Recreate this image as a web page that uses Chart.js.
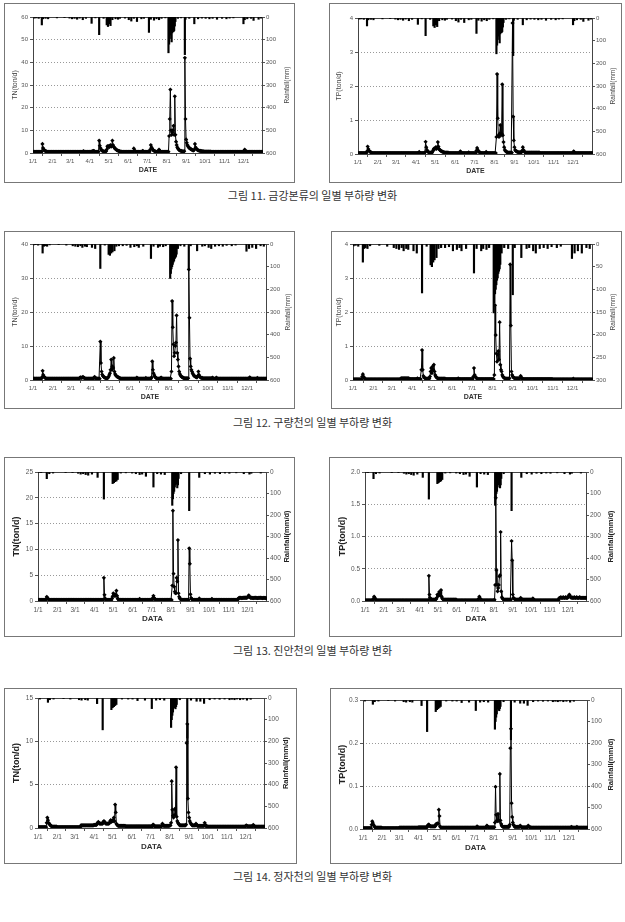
<!DOCTYPE html>
<html>
<head>
<meta charset="utf-8">
<script src="https://cdn.jsdelivr.net/npm/chart.js@4.4.0/dist/chart.umd.min.js"></script>
<style>
  body { margin: 0; background: #fff; width: 625px; height: 922px; position: relative; overflow: hidden; }
  .box { position: absolute; border: 1px solid #777; box-sizing: border-box; background: #fff; }
  .box canvas { position: absolute; left: 0; top: 0; }
  .cap { position: absolute; left: 0; width: 625px; text-align: center; font-family: 'Noto Sans CJK KR', sans-serif; font-size: 11px; color: #333; line-height: 14px; }
</style>
</head>
<body>
<script>
// x axis: day of year (0 = 1/1)
const monthStarts = [0, 31, 59, 90, 120, 151, 181, 212, 243, 273, 304, 334];
const monthLabels = ['1/1', '2/1', '3/1', '4/1', '5/1', '6/1', '7/1', '8/1', '9/1', '10/1', '11/1', '12/1'];

// daily loads, one line per month (Jan..Dec)
const tnGeum = [
  .5,.5,.5,.5,.5,.5,.5,.5,.5,.5,.5,.5,.5,.5,.6,4,2.2,1.6,1.2,1,.8,.7,.6,.5,.5,.5,.5,.5,.5,.5,.5,
  .5,.5,.5,.5,.5,.5,.5,.5,.5,.5,.5,.5,.5,.5,.5,.5,.5,.5,.5,.5,.5,.5,.5,.5,.5,.5,.5,.5,
  .5,.5,.5,.5,.5,.5,.5,.5,.5,.5,.5,.5,.5,.5,.5,.5,.5,.5,.5,.5,.5,.8,.6,.5,.5,.5,.5,.5,.5,.5,.5,
  .5,.5,.5,.6,.7,.8,1,.8,.6,.5,.5,.5,.5,.5,.6,5.5,3.2,2.2,1.6,1.2,1,.8,.7,.6,.6,.6,.8,1.5,3,2.5,
  3,2.6,3.2,3.5,2.8,3.2,5.5,3.5,2.8,2.4,2,1.8,1.5,1.3,1.1,1,.9,.8,.7,.6,.6,.5,.5,.5,.5,.5,.5,.5,.5,.5,.5,
  .5,.5,.5,.5,.5,.5,.5,.5,.5,2,1.2,.8,.6,.5,.5,.5,.5,.5,.5,.5,.5,.5,.5,1,.7,.5,.5,.5,.5,.5,
  .5,.5,.5,.5,.5,1.5,3.5,2.5,2,1.5,1.2,1,.8,.7,.6,.5,.5,.5,.5,1.5,1,.7,.5,.5,.5,.5,.5,.5,.5,.5,.5,
  .5,.5,.5,.6,7.5,15,28,10,8,9,10,12,8,25,8,5,3.5,2.5,2,1.6,1.3,1.1,1,.9,.8,.7,.7,.6,.8,42,15,
  6,4.5,3.5,3,2.5,2.2,2,1.8,1.6,1.5,1.3,1.2,1.1,1.5,4,2.5,2,1.6,1.4,1.2,1.1,1,.9,.9,.8,.8,.7,.7,.7,.6,
  .6,.6,.6,.6,.6,.6,.6,.6,.6,.6,.5,.5,.5,.5,.5,.5,.5,.5,.5,.5,.5,.5,.5,.5,.5,.5,.5,.5,.5,.5,.5,
  .5,.5,.5,.5,.5,.5,.5,.5,.5,.5,.5,.5,.5,.5,.5,.5,.5,.5,.5,.5,.5,.5,.5,.5,.5,.5,.5,.5,.5,.5,
  .5,.7,1.5,1,.7,.5,.5,.5,.5,.5,.5,.5,.5,.5,.5,.5,.5,.5,.5,.5,.5,.5,.5,.5,.5,.5,.5,.5,.5,.5,.5
];
const tpGeum = [
  .03,.03,.03,.03,.03,.03,.03,.03,.03,.03,.03,.03,.03,.03,.08,.22,.15,.1,.08,.06,.05,.04,.03,.03,.03,.03,.03,.03,.03,.03,.03,
  .03,.03,.03,.03,.03,.03,.03,.03,.03,.03,.03,.03,.03,.03,.03,.03,.03,.03,.03,.03,.03,.03,.03,.03,.03,.03,.03,.03,
  .03,.03,.03,.03,.03,.03,.03,.03,.03,.03,.03,.03,.03,.03,.03,.03,.03,.03,.03,.03,.03,.03,.03,.03,.03,.03,.03,.03,.03,.03,.03,
  .03,.03,.03,.03,.03,.06,.04,.03,.03,.03,.03,.03,.03,.03,.05,.36,.2,.12,.08,.06,.05,.04,.04,.04,.04,.04,.08,.12,.16,.14,
  .18,.2,.15,.2,.35,.22,.15,.12,.1,.09,.08,.07,.06,.05,.05,.04,.04,.04,.04,.04,.04,.03,.03,.03,.03,.03,.03,.03,.03,.03,.03,
  .03,.03,.03,.03,.03,.03,.03,.03,.08,.05,.03,.03,.03,.03,.03,.03,.03,.03,.03,.03,.03,.05,.03,.03,.03,.03,.03,.03,.03,.03,
  .03,.03,.03,.1,.18,.12,.08,.06,.05,.04,.03,.03,.03,.03,.03,.03,.03,.03,.06,.04,.03,.03,.03,.03,.03,.03,.03,.03,.03,.03,.03,
  .03,.03,.03,.5,2.35,1.05,.55,.5,.6,.85,.55,.6,2.05,.55,.35,.2,.12,.09,.07,.06,.05,.04,.04,.04,.04,.04,.04,.04,3.85,1.1,.4,
  .2,.12,.09,.08,.07,.06,.05,.05,.05,.05,.05,.05,.1,.2,.12,.08,.06,.04,.04,.04,.04,.04,.04,.04,.04,.04,.04,.04,.04,.04,
  .04,.04,.04,.04,.04,.04,.04,.04,.04,.04,.03,.03,.03,.03,.03,.03,.03,.03,.03,.03,.03,.03,.03,.03,.03,.03,.03,.03,.03,.03,.03,
  .03,.03,.03,.03,.03,.03,.03,.03,.03,.03,.03,.03,.03,.03,.03,.03,.03,.03,.03,.03,.03,.03,.03,.03,.03,.03,.03,.03,.03,.03,
  .03,.08,.05,.03,.03,.03,.03,.03,.03,.03,.03,.03,.03,.03,.03,.03,.03,.03,.03,.03,.03,.03,.03,.03,.03,.03,.03,.03,.03,.03,.03
];
const tnGuryang = [
  .4,.4,.4,.4,.4,.4,.4,.4,.4,.4,.4,.4,.4,.4,.8,2.7,1.5,1,.8,.6,.5,.4,.4,.4,.4,.4,.4,.4,.4,.4,.4,
  .4,.4,.4,.4,.4,.4,.4,.4,.4,.4,.4,.4,.4,.4,.4,.4,.4,.4,.4,.4,.4,.4,.4,.4,.4,.4,.4,.4,
  .4,.4,.4,.4,.4,.4,.4,.4,.4,.4,.4,.4,.4,.4,.6,.8,.7,.6,.8,.9,.7,.6,.5,.4,.4,.4,.4,.4,.4,.4,.4,
  .4,.4,.4,.4,.4,.6,.9,.7,.5,.4,.4,.4,.4,.4,.4,11.3,5,2.5,1.6,1.2,1,.8,.7,.6,.5,.5,.5,.7,1,1.5,
  2,3,6,3,4,3.5,6.5,2.5,1.8,1.4,1.2,1,.9,.8,.7,.6,.5,.4,.4,.4,.4,.4,.4,.4,.4,.4,.4,.4,.4,.4,.4,
  .4,.4,.4,.4,.4,.4,.4,.4,.4,.4,.4,.7,.5,.4,.4,.4,.4,.4,.4,.4,.4,.4,.4,.4,.4,.6,.4,.4,.4,.4,
  .4,.4,.4,.4,.8,5.5,3,2,1.5,1,.8,.6,.5,.4,.4,.4,.4,.4,.6,.7,.5,.4,.4,.4,.4,.4,.4,.4,.4,.4,.4,
  .4,.4,.4,.4,2.5,23.2,15.5,10.5,7,8,10,11,19,8,6,4,2.5,1.8,1.4,1.1,.9,.8,.7,.6,.5,.5,.5,.5,.5,.5,.5,
  32.5,18.3,6.3,4,3,2.5,2,1.6,1.3,1.1,1,.9,.8,.8,1.2,2.5,1.5,1,.8,.7,.6,.6,.5,.5,.5,.5,.5,.5,.5,.5,
  .5,.5,.5,.5,.5,.5,.5,.7,.5,.4,.4,.4,.4,.7,.5,.4,.4,.4,.4,.4,.4,.4,.4,.4,.4,.4,.4,.4,.4,.4,.4,
  .4,.4,.4,.4,.4,.4,.4,.4,.4,.4,.4,.4,.4,.4,.4,.4,.4,.4,.4,.4,.4,.4,.4,.4,.4,.4,.4,.4,.4,.4,
  .4,.4,.4,.4,.8,.6,.4,.4,.4,.4,.4,.4,.4,.4,.4,.4,.6,.4,.4,.4,.4,.4,.4,.4,.4,.4,.4,.4,.4,.4,.4
];
const tpGuryang = [
  .02,.02,.02,.02,.02,.02,.02,.02,.02,.02,.02,.02,.02,.02,.1,.17,.1,.06,.04,.03,.02,.02,.02,.02,.02,.02,.02,.02,.02,.02,.02,
  .02,.02,.02,.02,.02,.02,.02,.02,.02,.02,.02,.02,.02,.02,.02,.02,.02,.02,.02,.02,.02,.02,.02,.02,.02,.02,.02,.02,
  .02,.02,.02,.02,.02,.02,.02,.02,.02,.02,.02,.02,.02,.02,.05,.05,.05,.05,.05,.05,.05,.05,.05,.05,.05,.05,.05,.03,.03,.03,.03,
  .03,.03,.03,.03,.03,.03,.03,.03,.05,.03,.03,.03,.03,.03,.3,.88,.3,.12,.08,.06,.05,.04,.04,.04,.04,.04,.04,.1,.25,.35,
  .2,.4,.3,.45,.25,.15,.1,.08,.06,.05,.04,.04,.04,.04,.04,.04,.04,.04,.04,.04,.04,.03,.03,.03,.03,.03,.03,.03,.03,.03,.03,
  .03,.03,.03,.03,.03,.03,.03,.03,.03,.05,.03,.03,.03,.03,.03,.03,.03,.03,.03,.03,.03,.03,.03,.03,.03,.03,.03,.03,.03,.03,
  .03,.03,.1,.35,.15,.1,.07,.05,.04,.03,.03,.03,.03,.03,.03,.03,.03,.03,.03,.03,.03,.03,.03,.03,.03,.03,.03,.03,.03,.03,.03,
  .03,.03,.03,.15,2.2,1.32,.78,.54,.75,.85,.6,1.7,.45,.3,.25,.15,.1,.08,.06,.05,.04,.04,.04,.04,.04,.04,.05,3.4,1.6,.25,.15,
  .1,.08,.06,.05,.05,.05,.05,.05,.05,.05,.05,.05,.12,.08,.05,.03,.03,.03,.03,.03,.03,.03,.03,.03,.03,.03,.03,.03,.03,.03,
  .03,.03,.03,.03,.03,.03,.03,.03,.03,.03,.03,.03,.03,.03,.03,.03,.03,.03,.03,.03,.03,.03,.03,.03,.03,.03,.03,.03,.03,.03,.03,
  .02,.02,.02,.02,.02,.02,.02,.02,.02,.02,.02,.02,.02,.02,.02,.02,.02,.02,.02,.02,.02,.02,.02,.02,.02,.02,.02,.02,.02,.02,
  .02,.04,.02,.02,.02,.02,.02,.02,.02,.02,.02,.02,.02,.02,.02,.02,.02,.02,.02,.02,.02,.02,.02,.02,.02,.02,.02,.02,.02,.02,.02
];
const tnJinan = [
  .2,.2,.2,.2,.2,.2,.2,.2,.2,.2,.2,.2,.2,.4,.8,.6,.4,.3,.2,.2,.2,.2,.2,.2,.2,.2,.2,.2,.2,.2,.2,
  .2,.2,.2,.2,.2,.2,.2,.2,.2,.2,.2,.2,.2,.2,.2,.2,.2,.2,.2,.2,.2,.2,.2,.2,.2,.2,.2,.2,
  .2,.2,.2,.2,.2,.2,.2,.2,.2,.2,.2,.2,.2,.2,.2,.2,.2,.2,.2,.2,.2,.2,.2,.2,.2,.2,.2,.2,.2,.2,.2,
  .2,.2,.2,.2,.2,.2,.2,.2,.2,.2,.2,.2,.2,.2,.2,4.5,1.2,.5,.3,.2,.2,.2,.2,.2,.2,.2,.2,.2,.5,.9,
  1.5,1.2,1,1.3,1,2,1,.5,.3,.2,.2,.2,.2,.2,.2,.2,.2,.2,.2,.2,.2,.2,.2,.2,.2,.2,.2,.2,.2,.2,.2,
  .2,.2,.2,.2,.2,.2,.2,.2,.2,.2,.2,.4,.2,.2,.2,.2,.2,.2,.2,.2,.2,.2,.2,.2,.2,.2,.2,.2,.2,.2,
  .2,.2,.6,1,.6,.4,.3,.2,.2,.2,.2,.2,.2,.2,.2,.2,.2,.2,.2,.2,.2,.2,.2,.2,.2,.2,.2,.2,.2,.2,.2,
  .2,.2,3,17.5,5.3,2.8,1.8,1.5,1.5,4.5,3.8,11.8,1.5,.8,.5,.4,.3,.2,.2,.2,.2,.2,.2,.2,.2,.2,.2,.2,.2,10.2,7.2,
  1.3,.6,.4,.3,.2,.2,.2,.2,.2,.2,.2,.2,.2,.2,.5,.3,.2,.2,.2,.2,.2,.2,.2,.2,.2,.2,.2,.2,.2,.2,
  .2,.2,.2,.2,.4,.3,.2,.2,.2,.2,.2,.2,.2,.2,.2,.2,.2,.2,.2,.2,.2,.2,.2,.2,.2,.2,.2,.2,.2,.2,.2,
  .2,.2,.2,.2,.2,.2,.2,.2,.2,.2,.2,.2,.2,.2,.2,.45,.55,.6,.65,.6,.6,.55,.6,.65,.6,.6,.7,.6,.6,.65,
  .7,.9,1.1,.8,.7,.6,.65,.6,.6,.55,.6,.6,.65,.6,.6,.6,.55,.6,.6,.6,.65,.6,.6,.6,.55,.6,.6,.6,.6,.55,.55
];
const tpJinan = [
  .01,.01,.01,.01,.01,.01,.01,.01,.01,.01,.01,.01,.01,.01,.04,.07,.05,.03,.02,.01,.01,.01,.01,.01,.01,.01,.01,.01,.01,.01,.01,
  .01,.01,.01,.01,.01,.01,.01,.01,.01,.01,.01,.01,.01,.01,.01,.01,.01,.01,.01,.01,.01,.01,.01,.01,.01,.01,.01,.01,
  .01,.01,.01,.01,.01,.01,.01,.01,.01,.01,.01,.01,.01,.01,.01,.01,.01,.01,.01,.01,.01,.01,.01,.01,.01,.01,.01,.01,.01,.01,.01,
  .01,.01,.01,.01,.01,.01,.01,.01,.01,.01,.01,.01,.01,.01,.01,.39,.1,.05,.03,.02,.02,.02,.02,.02,.02,.02,.02,.03,.05,.1,
  .08,.1,.14,.1,.08,.17,.07,.04,.03,.02,.02,.02,.02,.02,.02,.02,.02,.02,.02,.02,.02,.02,.02,.02,.02,.02,.02,.02,.02,.02,.02,
  .01,.01,.01,.01,.01,.01,.01,.01,.01,.01,.01,.01,.01,.01,.01,.01,.01,.01,.01,.01,.01,.01,.01,.01,.01,.01,.01,.01,.01,.01,
  .01,.01,.01,.01,.01,.01,.04,.07,.04,.03,.02,.01,.01,.01,.01,.01,.01,.01,.01,.01,.01,.01,.01,.01,.01,.01,.01,.01,.01,.01,.01,
  .01,.02,.25,1.6,.48,.25,.15,.2,.25,.38,.4,1.07,.15,.06,.04,.03,.02,.02,.02,.02,.02,.02,.02,.02,.02,.02,.02,.02,.02,.93,.63,
  .1,.05,.04,.03,.02,.02,.02,.02,.02,.02,.02,.02,.02,.05,.03,.02,.02,.02,.02,.02,.02,.02,.02,.02,.02,.02,.02,.02,.02,.02,
  .02,.02,.02,.04,.03,.01,.01,.01,.01,.01,.01,.01,.01,.01,.01,.01,.01,.01,.01,.01,.01,.01,.01,.01,.01,.01,.01,.01,.01,.01,.01,
  .01,.01,.01,.01,.01,.01,.01,.01,.01,.01,.01,.01,.01,.01,.01,.04,.05,.05,.06,.05,.05,.05,.06,.05,.05,.05,.06,.05,.05,.05,
  .06,.08,.1,.07,.06,.05,.06,.05,.05,.05,.06,.05,.05,.05,.06,.05,.05,.05,.05,.06,.05,.05,.05,.05,.05,.05,.05,.05,.05,.05,.05
];
const tnJeongja = [
  .1,.1,.1,.1,.1,.1,.1,.1,.1,.1,.1,.1,.1,.1,.6,1.2,.9,.6,.5,.4,.3,.25,.2,.15,.15,.15,.15,.15,.15,.15,.15,
  .1,.1,.1,.1,.1,.1,.1,.1,.1,.1,.1,.1,.1,.1,.1,.1,.1,.1,.1,.1,.1,.1,.1,.1,.1,.1,.1,.1,
  .1,.1,.1,.1,.1,.1,.1,.1,.1,.1,.3,.3,.3,.3,.3,.3,.3,.3,.3,.3,.3,.3,.3,.3,.3,.3,.3,.3,.3,.3,.3,
  .35,.35,.35,.35,.35,.5,.6,.7,.6,.5,.5,.5,.5,.5,.5,.7,.8,.7,.6,.5,.5,.5,.5,.5,.5,.6,.8,.9,.7,.8,
  .9,.8,1.2,.8,2.7,1.8,.5,.4,.3,.25,.25,.25,.25,.25,.25,.25,.25,.25,.25,.25,.25,.2,.2,.2,.2,.2,.2,.2,.2,.2,.2,
  .2,.2,.2,.2,.2,.2,.2,.2,.2,.2,.2,.2,.2,.2,.2,.2,.2,.2,.2,.2,.2,.2,.2,.2,.2,.2,.2,.2,.2,.2,
  .2,.2,.2,.2,.4,.35,.2,.2,.2,.2,.2,.2,.2,.2,.2,.2,.2,.2,.2,.5,.4,.25,.25,.25,.25,.25,.25,.25,.25,.25,.25,
  .3,.3,.6,5.4,2.1,1.4,1.2,1.5,2.2,1.5,7,1.3,.8,.6,.5,.4,.3,.3,.3,.3,.3,.3,.3,.3,.3,.3,.4,9.8,12,3.4,1.8,
  1.2,.8,.6,.5,.4,.3,.3,.3,.3,.3,.3,.5,.4,.25,.25,.25,.25,.25,.25,.25,.25,.25,.25,.25,.25,.6,.4,.2,.2,.2,
  .15,.15,.15,.15,.15,.15,.15,.15,.15,.15,.15,.15,.15,.15,.15,.15,.15,.15,.15,.15,.15,.15,.15,.15,.15,.15,.15,.15,.15,.15,.15,
  .15,.15,.15,.15,.15,.15,.15,.15,.15,.15,.15,.15,.15,.15,.15,.15,.15,.15,.15,.15,.15,.15,.15,.15,.15,.15,.15,.15,.15,.15,
  .25,.3,.25,.2,.2,.2,.2,.2,.2,.2,.2,.2,.35,.3,.15,.15,.15,.15,.15,.15,.15,.15,.15,.15,.15,.15,.15,.15,.15,.15,.15
];
const tpJeongja = [
  .002,.002,.002,.002,.002,.002,.002,.002,.002,.002,.002,.002,.002,.002,.01,.018,.014,.01,.007,.005,.003,.003,.003,.003,.003,.003,.003,.003,.003,.003,.003,
  .002,.002,.002,.002,.002,.002,.002,.002,.002,.002,.002,.002,.002,.002,.002,.002,.002,.002,.002,.002,.002,.002,.002,.002,.002,.002,.002,.002,
  .003,.003,.003,.003,.003,.003,.003,.003,.003,.003,.003,.003,.003,.003,.003,.003,.003,.003,.003,.003,.003,.003,.003,.003,.003,.003,.003,.003,.003,.003,.003,
  .004,.004,.004,.004,.004,.004,.004,.004,.004,.004,.004,.004,.004,.004,.004,.008,.01,.01,.008,.006,.006,.006,.006,.006,.006,.006,.006,.006,.01,.012,
  .012,.013,.012,.045,.03,.006,.004,.003,.003,.003,.003,.003,.003,.003,.003,.003,.003,.003,.003,.003,.003,.003,.003,.003,.003,.003,.003,.003,.003,.003,.003,
  .003,.003,.003,.003,.003,.003,.003,.003,.003,.003,.003,.003,.003,.003,.003,.003,.003,.003,.003,.003,.003,.003,.003,.003,.003,.003,.003,.003,.003,.003,
  .003,.003,.003,.003,.006,.005,.003,.003,.003,.003,.003,.003,.003,.003,.003,.003,.003,.003,.003,.003,.008,.006,.004,.004,.004,.004,.004,.004,.004,.004,.004,
  .004,.004,.015,.098,.033,.02,.018,.035,.02,.018,.128,.02,.012,.008,.006,.005,.005,.005,.005,.005,.005,.005,.005,.005,.005,.005,.01,.188,.233,.06,.028,
  .015,.01,.008,.005,.005,.005,.005,.005,.005,.005,.005,.005,.008,.006,.004,.004,.004,.004,.004,.004,.004,.004,.004,.004,.004,.008,.006,.004,.004,.004,
  .003,.003,.003,.003,.003,.003,.003,.003,.003,.003,.003,.003,.003,.003,.003,.003,.003,.003,.003,.003,.003,.003,.003,.003,.003,.003,.003,.003,.003,.003,.003,
  .003,.003,.003,.003,.003,.003,.003,.003,.003,.003,.003,.003,.003,.003,.003,.003,.003,.003,.003,.003,.003,.003,.003,.003,.003,.003,.003,.003,.003,.003,
  .003,.003,.003,.003,.005,.004,.003,.003,.003,.003,.003,.003,.003,.005,.003,.003,.003,.003,.003,.003,.003,.003,.003,.003,.003,.003,.003,.003,.003,.003,.003
];

// daily rainfall, [day of year, mm]
const rainGeum = [[2,5],[5,4],[9,6],[14,35],[16,8],[20,6],[24,8],[38,4],[50,3],[58,5],[62,8],[66,6],[70,10],[74,5],[79,12],[84,6],
  [93,28],[99,4],[105,78],[112,6],[117,35],[119,42],[121,30],[123,38],[126,12],[131,8],[135,10],[138,6],[146,5],[152,12],[156,18],
  [160,6],[165,20],[172,8],[176,6],[184,68],[187,10],[192,14],[196,8],[200,12],[204,6],[210,4],[215,158],[216,120],[217,95],
  [218,80],[219,60],[220,110],[221,70],[222,55],[223,65],[224,60],[225,40],[226,20],[230,6],[235,4],[241,166],[242,10],[248,6],
  [256,30],[262,8],[268,5],[274,6],[280,8],[285,6],[292,10],[300,6],[307,8],[312,5],[318,4],[334,30],[336,12],[340,8],[346,6],
  [350,15],[358,10],[362,5]];
const rainGuryang = [[1,4],[4,3],[8,5],[15,40],[17,10],[19,8],[22,10],[26,4],[40,3],[52,5],[62,8],[66,10],[70,12],[74,8],[77,15],
  [81,10],[84,12],[92,15],[97,20],[105,108],[112,5],[118,46],[120,50],[122,40],[124,35],[127,30],[130,10],[134,8],[140,8],[146,6],
  [152,15],[158,12],[162,8],[165,15],[172,10],[184,64],[188,10],[195,15],[198,10],[203,12],[207,8],[214,152],[215,130],[216,110],
  [217,100],[218,90],[219,80],[220,75],[221,65],[222,60],[223,55],[224,45],[226,20],[230,8],[236,10],[243,112],[246,8],[256,30],
  [264,10],[268,8],[274,15],[278,20],[284,10],[290,8],[296,10],[302,6],[310,8],[316,5],[333,32],[337,20],[342,15],[348,20],
  [355,8],[360,10]];
const rainJinan = [[1,3],[5,3],[14,31],[18,8],[24,5],[44,3],[55,3],[64,6],[68,10],[72,8],[76,12],[80,15],[86,10],[95,25],[105,126],
  [119,54],[121,50],[123,45],[125,42],[127,35],[132,5],[140,4],[150,5],[156,8],[162,12],[166,10],[172,20],[184,70],[190,8],
  [196,10],[202,12],[214,155],[215,125],[216,100],[217,90],[218,70],[219,60],[220,50],[221,55],[222,74],[223,60],[224,30],
  [228,8],[241,180],[257,25],[266,8],[274,10],[282,6],[290,8],[298,5],[305,6],[316,4],[328,8],[337,10],[340,6],[355,5]];
const rainJeongja = [[3,5],[16,20],[19,8],[25,5],[41,3],[52,5],[66,8],[70,10],[76,8],[80,10],[95,26],[104,147],[118,54],[120,45],
  [122,40],[124,35],[126,30],[135,5],[145,5],[152,5],[160,12],[172,10],[183,49],[190,10],[196,8],[203,10],[214,136],[215,100],
  [216,80],[217,65],[218,40],[219,35],[220,45],[221,50],[222,40],[223,30],[228,8],[240,185],[246,10],[255,15],[261,15],[267,25],
  [276,8],[284,5],[292,6],[300,5],[308,8],[312,6],[316,8],[320,5],[325,8],[330,6],[336,10],[342,6]];

const captions = [
  ['그림 11.  금강본류의 일별 부하량 변화', 195],
  ['그림 12.  구량천의 일별 부하량 변화', 422],
  ['그림 13.  진안천의 일별 부하량 변화', 650],
  ['그림 14.  정자천의 일별 부하량 변화', 876]
];

// layout of the eight panels (page pixels)
const panels = [
  { load: tnGeum, rain: rainGeum, box: [4, 3, 291, 180], plot: [33, 17, 263, 153], yMax: 60, yStep: 10, rMax: 600, rStep: 100,
    yTitle: 'TN(ton/d)', rTitle: 'Rainfall(mm)', xTitle: 'DATE', ltx: 15, rtx: 287, xty: 170, bold: false, dec: 0 },
  { load: tpGeum, rain: rainGeum, box: [329, 3, 293, 180], plot: [358, 18, 593, 154], yMax: 4, yStep: 1, rMax: 600, rStep: 100,
    yTitle: 'TP(ton/d)', rTitle: 'Rainfall(mm)', xTitle: 'DATE', ltx: 339, rtx: 613, xty: 171, bold: false, dec: 0 },
  { load: tnGuryang, rain: rainGuryang, box: [4, 231, 291, 178], plot: [33, 244, 267, 380], yMax: 40, yStep: 10, rMax: 600, rStep: 100,
    yTitle: 'TN(ton/d)', rTitle: 'Rainfall(mm)', xTitle: 'DATE', ltx: 15, rtx: 288, xty: 397, bold: false, dec: 0 },
  { load: tpGuryang, rain: rainGuryang, box: [331, 231, 291, 178], plot: [353, 244, 593, 380], yMax: 4, yStep: 1, rMax: 300, rStep: 50,
    yTitle: 'TP(ton/d)', rTitle: 'Rainfall(mm)', xTitle: 'DATE', ltx: 339, rtx: 613, xty: 397, bold: false, dec: 0 },
  { load: tnJinan, rain: rainJinan, box: [4, 457, 291, 180], plot: [38, 472, 267, 601], yMax: 25, yStep: 5, rMax: 600, rStep: 100,
    yTitle: 'TN(ton/d)', rTitle: 'Rainfall(mm/d)', xTitle: 'DATA', ltx: 17, rtx: 287, xty: 619, bold: true, dec: 0 },
  { load: tpJinan, rain: rainJinan, box: [329, 457, 293, 180], plot: [365, 472, 587, 601], yMax: 2, yStep: 0.5, rMax: 600, rStep: 100,
    yTitle: 'TP(ton/d)', rTitle: 'Rainfall(mm/d)', xTitle: 'DATA', ltx: 343, rtx: 611, xty: 619, bold: true, dec: 1 },
  { load: tnJeongja, rain: rainJeongja, box: [4, 688, 293, 176], plot: [38, 698, 265, 828], yMax: 15, yStep: 5, rMax: 600, rStep: 100,
    yTitle: 'TN(ton/d)', rTitle: 'Rainfall(mm/d)', xTitle: 'DATA', ltx: 17, rtx: 286, xty: 847, bold: true, dec: 0 },
  { load: tpJeongja, rain: rainJeongja, box: [330, 688, 292, 176], plot: [363, 700, 588, 829], yMax: 0.3, yStep: 0.1, rMax: 600, rStep: 100,
    yTitle: 'TP(ton/d)', rTitle: 'Rainfall(mm/d)', xTitle: 'DATA', ltx: 343, rtx: 611, xty: 848, bold: true, dec: 1 }
];

Chart.defaults.font.family = "'Liberation Sans', Arial, sans-serif";

captions.forEach(([text, y]) => {
  const d = document.createElement('div');
  d.className = 'cap';
  d.style.top = (y - 7) + 'px';
  d.textContent = text;
  document.body.appendChild(d);
});

function deco(p, ox) {
  return {
    id: 'deco',
    beforeDatasetsDraw(chart) {
      const { ctx, chartArea: a } = chart;
      ctx.save();
      ctx.strokeStyle = '#444';
      ctx.lineWidth = 1;
      ctx.strokeRect(Math.round(a.left) + 0.5, Math.round(a.top) + 0.5, Math.round(a.right - a.left) - 1, Math.round(a.bottom - a.top));
      ctx.restore();
    },
    afterDraw(chart) {
      const { ctx, chartArea: a } = chart;
      ctx.save();
      ctx.translate(p.rtx - ox, (a.top + a.bottom) / 2);
      ctx.rotate(-Math.PI / 2);
      ctx.font = p.bold ? "bold 7.5px 'Liberation Sans', Arial, sans-serif" : "6.5px 'Liberation Sans', Arial, sans-serif";
      ctx.fillStyle = p.bold ? '#222' : '#444';
      ctx.textAlign = 'center';
      ctx.textBaseline = 'middle';
      ctx.fillText(p.rTitle, 0, 0);
      ctx.restore();
    }
  };
}

panels.forEach(p => {
  const [bx, by, bw, bh] = p.box;
  const [pl, pt, pr, pb] = p.plot;
  const box = document.createElement('div');
  box.className = 'box';
  box.style.left = bx + 'px';
  box.style.top = by + 'px';
  box.style.width = bw + 'px';
  box.style.height = bh + 'px';
  const cv = document.createElement('canvas');
  const cw = bw - 2, ch = bh - 2;
  cv.width = cw; cv.height = ch;
  cv.style.width = cw + 'px'; cv.style.height = ch + 'px';
  box.appendChild(cv);
  document.body.appendChild(box);

  const ox = bx + 1, oy = by + 1;
  const tickFont = { size: p.bold ? 6.5 : 6 };
  const ySize = p.bold ? 9 : 7;
  const xSize = p.bold ? 8 : 7;

  new Chart(cv, {
    type: 'line',
    data: {
      datasets: [
        {
          type: 'line',
          data: p.load.map((v, i) => ({ x: i, y: v })),
          yAxisID: 'y',
          borderColor: '#000',
          borderWidth: 1,
          pointStyle: 'rectRot',
          pointRadius: 2.1,
          pointBackgroundColor: '#000',
          pointBorderColor: '#000',
          pointBorderWidth: 0,
          tension: 0
        },
        {
          type: 'bar',
          data: p.rain.map(([d, mm]) => ({ x: d, y: mm })),
          yAxisID: 'y2',
          backgroundColor: '#000',
          barThickness: 1.5,
          grouped: false
        }
      ]
    },
    options: {
      responsive: false,
      animation: false,
      events: [],
      layout: { padding: { top: pt - oy, left: 0, right: 0, bottom: 0 } },
      plugins: { legend: { display: false }, tooltip: { enabled: false } },
      scales: {
        x: {
          type: 'linear', min: 0, max: 365, offset: false,
          afterBuildTicks: s => { s.ticks = monthStarts.map(v => ({ value: v })); },
          afterFit: s => { s.height = oy + ch - pb; },
          ticks: { autoSkip: false, maxRotation: 0, color: '#555', font: tickFont, padding: 2,
            callback: (v, i) => monthLabels[i] },
          grid: { drawOnChartArea: false, drawTicks: true, tickLength: 3, color: '#555' },
          border: { display: false },
          title: { display: true, text: p.xTitle, color: '#333', font: { size: xSize, weight: 'bold' },
            padding: { top: 0, bottom: (oy + ch) - p.xty - xSize * 0.6 } }
        },
        y: {
          position: 'left', min: 0, max: p.yMax,
          afterFit: s => { s.width = pl - ox; },
          ticks: { stepSize: p.yStep, color: '#555', font: tickFont, padding: 2,
            callback: v => p.dec ? Number(v).toFixed(p.dec) : String(Math.round(v)) },
          grid: {
            color: c => (c.tick && (c.tick.value <= 1e-9 || Math.abs(c.tick.value - p.yMax) < 1e-6)) ? 'rgba(0,0,0,0)' : '#999',
            tickColor: '#555', tickLength: 3, lineWidth: 1
          },
          border: { display: false, dash: [1, 2] },
          title: { display: true, text: p.yTitle, color: p.bold ? '#222' : '#444',
            font: { size: ySize, weight: p.bold ? 'bold' : 'normal' },
            padding: { top: (p.ltx - ox) - ySize * 0.6, bottom: 0 } }
        },
        y2: {
          position: 'right', reverse: true, min: 0, max: p.rMax,
          afterFit: s => { s.width = (ox + cw) - pr; },
          ticks: { stepSize: p.rStep, color: '#555', font: tickFont, padding: 1 },
          grid: { drawOnChartArea: false, tickColor: '#555', tickLength: 2 },
          border: { display: false }
        }
      }
    },
    plugins: [deco(p, ox)]
  });
});
</script>
</body>
</html>
